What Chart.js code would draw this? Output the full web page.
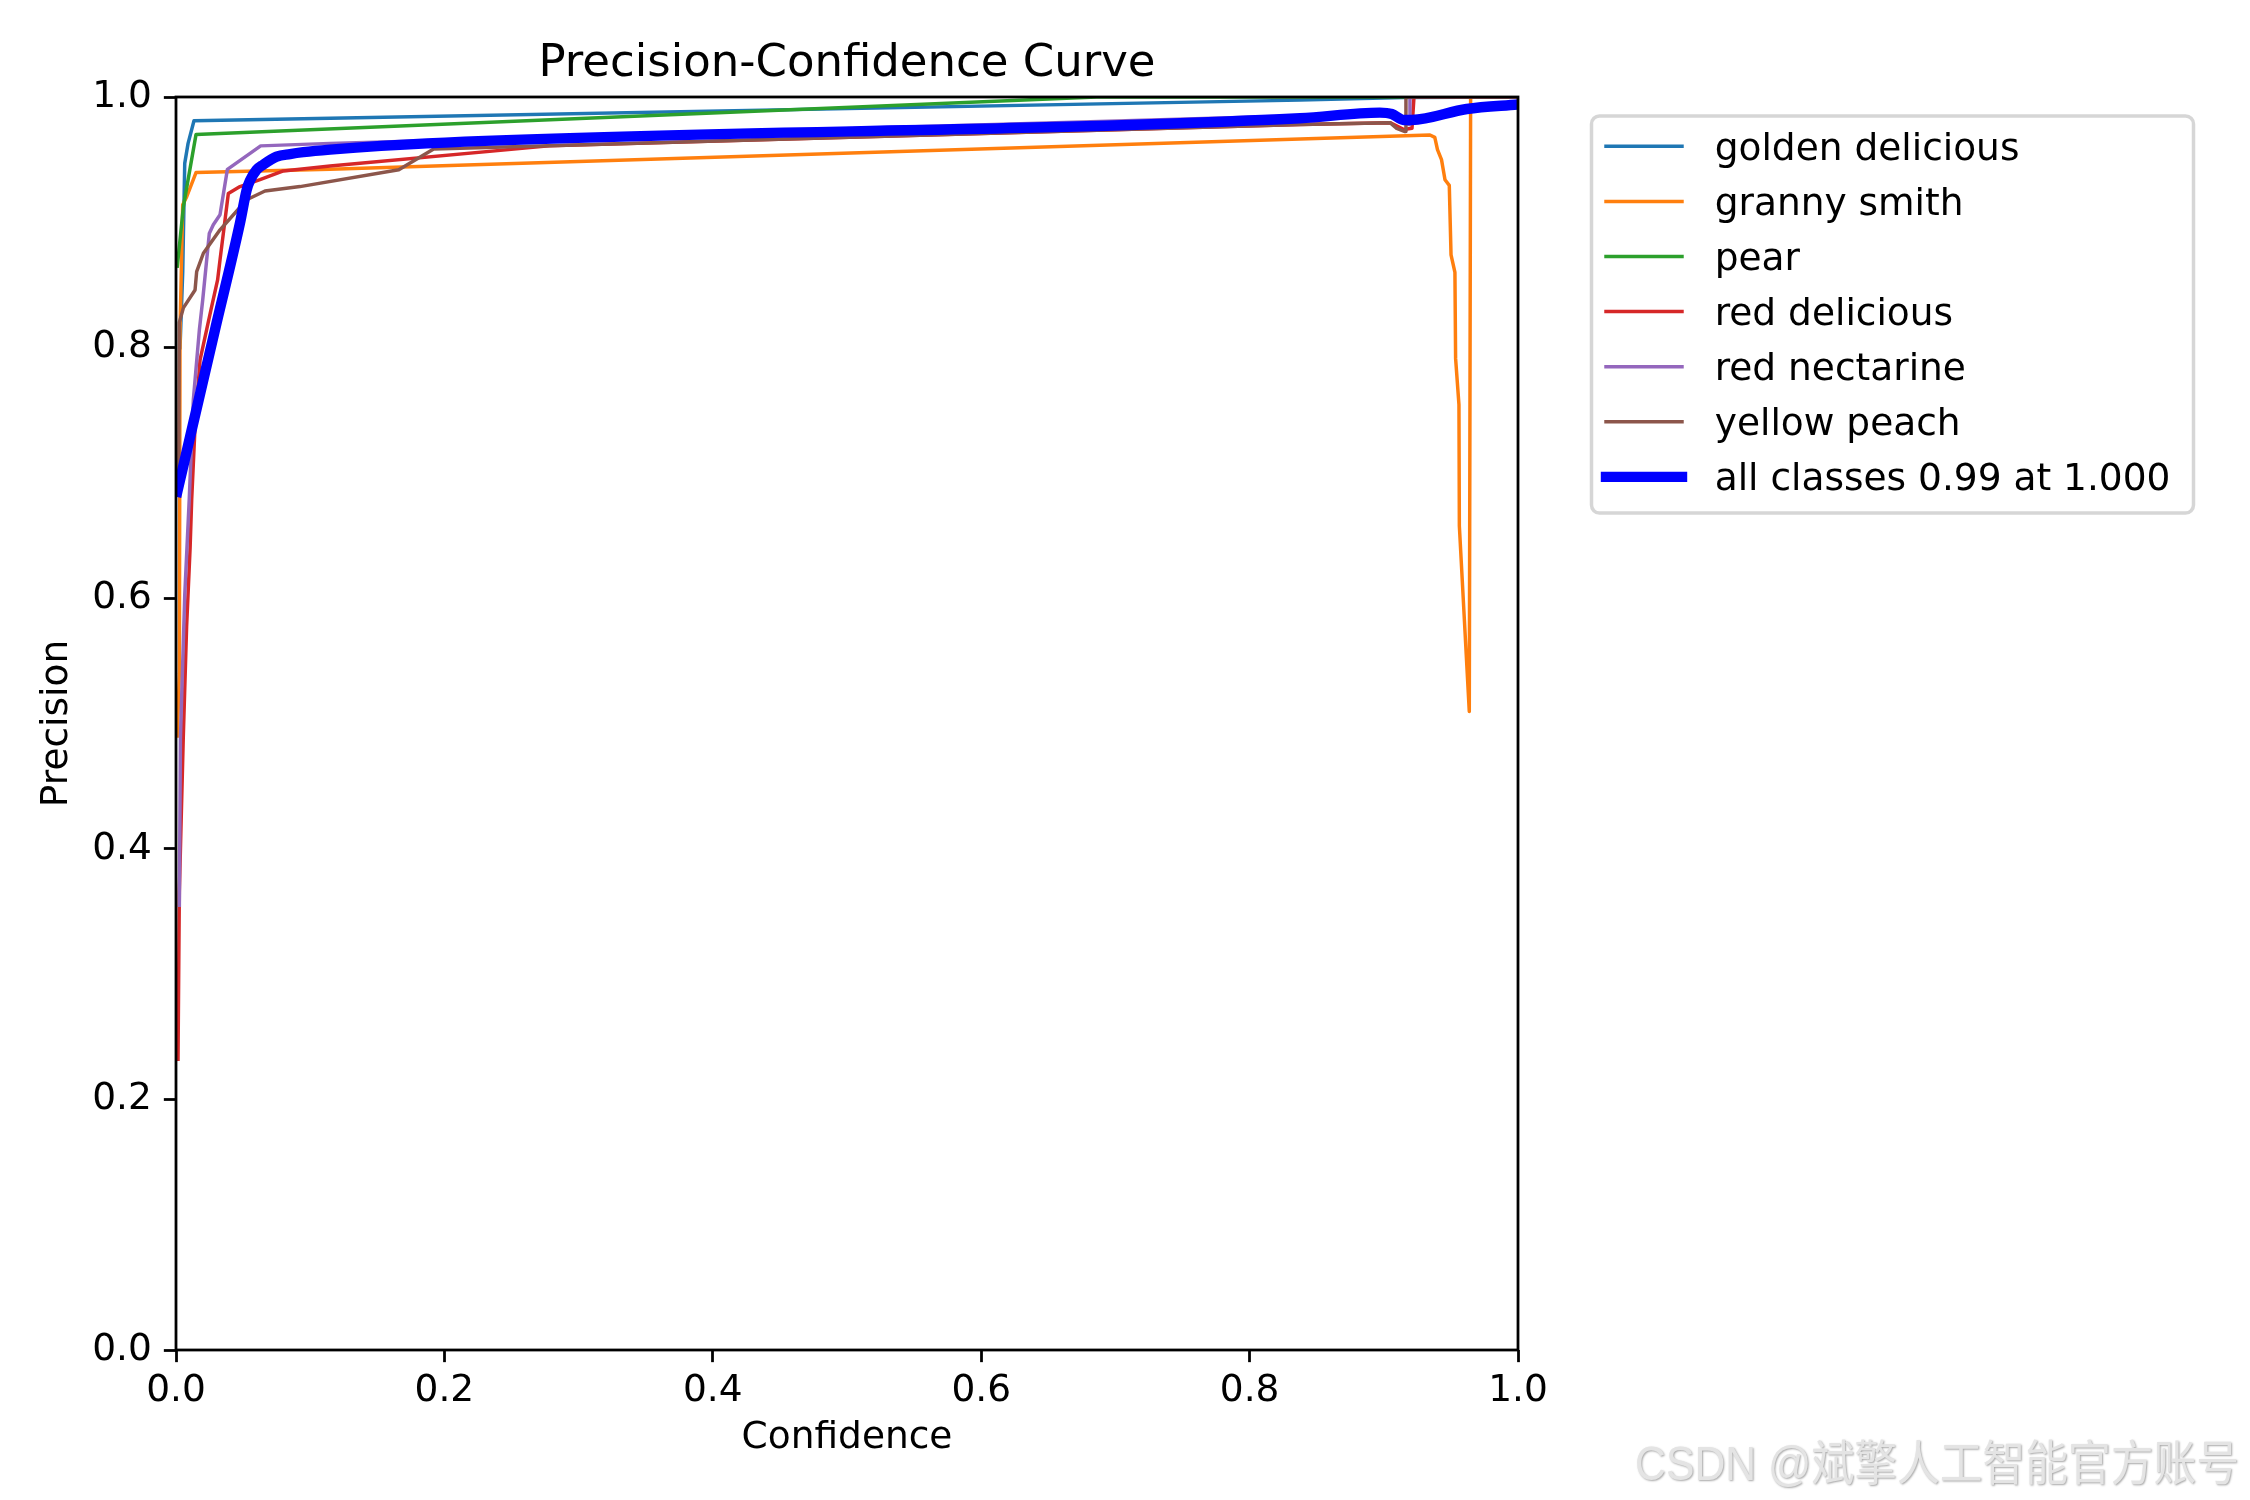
<!DOCTYPE html>
<html>
<head>
<meta charset="utf-8">
<title>Precision-Confidence Curve</title>
<script src="https://cdn.jsdelivr.net/npm/chart.js@4.4.1/dist/chart.umd.min.js"></script>
<style>
  html, body { margin: 0; padding: 0; background: #fff; }
  canvas { display: block; }
</style>
</head>
<body>
<canvas id="pcCurve" width="2250" height="1500"></canvas>
<script>
'use strict';

// ---- data ----
var classNames = ['golden delicious', 'granny smith', 'pear', 'red delicious', 'red nectarine', 'yellow peach'];
var allClassesLabel = 'all classes 0.99 at 1.000';
var xTicks = [0, 0.2, 0.4, 0.6, 0.8, 1.0];
var yTicks = [0, 0.2, 0.4, 0.6, 0.8, 1.0];

var goldenConf = [0.003, 0.005, 0.0065, 0.009, 0.0134, 0.115, 0.8376, 0.915, 1.0];
var goldenPrec = [0.800, 0.860, 0.947, 0.963, 0.981, 0.983, 0.9975, 0.9995, 1.0];

var grannyConf = [0.001, 0.0025, 0.003, 0.005, 0.008, 0.0149, 0.1148, 0.8376, 0.9344, 0.938, 0.940, 0.943, 0.9456, 0.9488, 0.9501, 0.953, 0.9535, 0.956, 0.9563, 0.9637, 0.9647, 1.0];
var grannyPrec = [0.490, 0.540, 0.814, 0.914, 0.9205, 0.9397, 0.9423, 0.9665, 0.9697, 0.9678, 0.958, 0.950, 0.934, 0.9295, 0.874, 0.860, 0.7914, 0.7544, 0.6576, 0.5096, 1.0, 1.0];

var pearConf = [0.001, 0.0055, 0.0149, 0.686, 1.0];
var pearPrec = [0.865, 0.9125, 0.970, 1.0, 1.0];

var redDelConf = [0.0015, 0.0025, 0.0054, 0.0079, 0.0105, 0.0117, 0.0142, 0.0179, 0.026, 0.031, 0.0328, 0.039, 0.0477, 0.0626, 0.080, 0.1148, 0.278, 0.8376, 0.905, 0.915, 0.921, 0.9225, 1.0];
var redDelPrec = [0.232, 0.366, 0.488, 0.577, 0.640, 0.679, 0.737, 0.790, 0.830, 0.854, 0.870, 0.923, 0.9285, 0.934, 0.941, 0.945, 0.961, 0.978, 0.9795, 0.974, 0.975, 1.0, 1.0];

var nectarineConf = [0.0025, 0.0033, 0.0065, 0.0099, 0.0129, 0.0174, 0.0199, 0.0248, 0.0278, 0.0328, 0.0383, 0.0631, 0.1148, 0.8376, 0.905, 0.913, 0.919, 0.9195, 1.0];
var nectarinePrec = [0.355, 0.488, 0.602, 0.680, 0.758, 0.814, 0.838, 0.891, 0.898, 0.906, 0.9423, 0.961, 0.963, 0.985, 0.986, 0.980, 0.978, 1.0, 1.0];

var peachConf = [0.002, 0.0025, 0.0055, 0.0142, 0.0154, 0.0204, 0.0328, 0.0527, 0.0663, 0.0924, 0.166, 0.192, 0.8376, 0.9046, 0.9096, 0.9158, 0.9165, 1.0];
var peachPrec = [0.690, 0.820, 0.8317, 0.846, 0.8607, 0.8753, 0.894, 0.918, 0.925, 0.9285, 0.942, 0.9585, 0.978, 0.9795, 0.975, 0.9724, 1.0, 1.0];

var allConf = [0.001, 0.029, 0.0477, 0.0527, 0.055, 0.060, 0.065, 0.075, 0.085, 0.0949, 0.1148, 0.187, 0.8376, 0.897, 0.906, 0.9146, 0.9208, 0.9618, 1.0];
var allPrec = [0.685, 0.814, 0.8995, 0.926, 0.933, 0.9418, 0.946, 0.9524, 0.9545, 0.956, 0.958, 0.963, 0.983, 0.9875, 0.9864, 0.9817, 0.9817, 0.9904, 0.994];

var classConf = [goldenConf, grannyConf, pearConf, redDelConf, nectarineConf, peachConf];
var classPrec = [goldenPrec, grannyPrec, pearPrec, redDelPrec, nectarinePrec, peachPrec];

// matplotlib tab10
var defaultColors = ['#1f77b4', '#ff7f0e', '#2ca02c', '#d62728', '#9467bd', '#8c564b'];

// ---- helpers ----
var PT = 250 / 72;              // one point in pixels at 250 dpi
var FONT = '"DejaVu Sans", sans-serif';
var smallSize = 37.5;
var titleSize = 45;

function toPoints(xs, ys) {
  var pts = [];
  for (var i = 0; i < xs.length; i++) pts.push({ x: xs[i], y: ys[i] });
  return pts;
}

var datasets = [];
classNames.forEach(function (name, i) {
  datasets.push({
    label: name,
    data: toPoints(classConf[i], classPrec[i]),
    borderColor: defaultColors[i],
    borderWidth: 1 * PT,
    order: classNames.length + 1 - i
  });
});
datasets.push({
  label: allClassesLabel,
  data: toPoints(allConf, allPrec),
  borderColor: '#0000ff',
  borderWidth: 3 * PT,
  cubicInterpolationMode: 'monotone',
  order: 1
});

// title, frame, legend and watermark, drawn matplotlib style
var decorPlugin = {
  id: 'decor',
  afterDatasetsDraw: function (chart) {
    var ctx = chart.ctx, a = chart.chartArea;
    ctx.save();
    ctx.strokeStyle = '#000';
    ctx.lineWidth = 0.8 * PT;
    ctx.strokeRect(a.left, a.top, a.right - a.left, a.bottom - a.top);
    ctx.restore();
  },
  afterDraw: function (chart) {
    var ctx = chart.ctx, a = chart.chartArea;
    ctx.save();

    // title
    ctx.fillStyle = '#000';
    ctx.font = titleSize + 'px ' + FONT;
    ctx.textAlign = 'center';
    ctx.textBaseline = 'alphabetic';
    ctx.fillText('Precision-Confidence Curve', (a.left + a.right) / 2, a.top - 6 * PT);

    // legend box
    var bx = 1591.5, by = 116, bw = 602, bh = 397, r = 8;
    ctx.beginPath();
    ctx.moveTo(bx + r, by);
    ctx.arcTo(bx + bw, by, bx + bw, by + bh, r);
    ctx.arcTo(bx + bw, by + bh, bx, by + bh, r);
    ctx.arcTo(bx, by + bh, bx, by, r);
    ctx.arcTo(bx, by, bx + bw, by, r);
    ctx.closePath();
    ctx.fillStyle = 'rgba(255,255,255,0.8)';
    ctx.fill();
    ctx.strokeStyle = 'rgba(204,204,204,0.8)';
    ctx.lineWidth = 1 * PT;
    ctx.stroke();

    // legend rows
    ctx.font = smallSize + 'px ' + FONT;
    ctx.textAlign = 'left';
    chart.data.datasets.forEach(function (ds, i) {
      var ry = 146.3 + i * 55.1;
      ctx.beginPath();
      ctx.lineCap = 'square';
      ctx.strokeStyle = ds.borderColor;
      ctx.lineWidth = ds.borderWidth;
      ctx.moveTo(1606, ry);
      ctx.lineTo(1682, ry);
      ctx.stroke();
      ctx.fillStyle = '#000';
      ctx.fillText(ds.label, 1714.7, ry + 13.5);
    });

    // watermark
    var wm = 'CSDN @斌擎人工智能官方账号';
    ctx.font = '48px "Liberation Sans", "Noto Sans CJK SC", sans-serif';
    var w = ctx.measureText(wm).width;
    ctx.translate(1635, 1480);
    ctx.scale(604 / w, 1);
    ctx.shadowColor = 'rgba(0,0,0,0.35)';
    ctx.shadowOffsetX = 1;
    ctx.shadowOffsetY = 1;
    ctx.shadowBlur = 2;
    ctx.fillStyle = '#e4e4e4';
    ctx.fillText(wm, 0, 0);
    ctx.restore();
  }
};

function axisOpts(ticks, titleText, isX) {
  return {
    type: 'linear',
    min: 0,
    max: 1,
    afterFit: function (s) {
      if (isX) s.height = 150; else s.width = 176;
    },
    afterBuildTicks: function (s) {
      s.ticks = ticks.map(function (v) { return { value: v }; });
    },
    border: { display: false },
    grid: {
      display: true,
      drawOnChartArea: false,
      drawTicks: true,
      tickLength: 3.5 * PT,
      tickWidth: 0.8 * PT,
      tickColor: '#000'
    },
    ticks: {
      color: '#000',
      padding: isX ? 7 : 12,
      maxRotation: 0,
      autoSkip: false,
      font: { family: FONT, size: smallSize },
      callback: function (v) { return v.toFixed(1); }
    },
    title: {
      display: true,
      text: titleText,
      color: '#000',
      font: { family: FONT, size: smallSize },
      padding: isX ? { top: 0, bottom: 39 } : { top: 35, bottom: 0 }
    }
  };
}

new Chart(document.getElementById('pcCurve').getContext('2d'), {
  type: 'line',
  data: { datasets: datasets },
  options: {
    responsive: false,
    devicePixelRatio: 1,
    animation: false,
    layout: { padding: { top: 97, right: 732, bottom: 0, left: 0 } },
    elements: {
      point: { radius: 0 },
      line: { tension: 0, borderJoinStyle: 'round', borderCapStyle: 'square' }
    },
    plugins: {
      legend: { display: false },
      title: { display: false },
      tooltip: { enabled: false }
    },
    scales: {
      x: axisOpts(xTicks, 'Confidence', true),
      y: axisOpts(yTicks, 'Precision', false)
    }
  },
  plugins: [decorPlugin]
});
</script>
</body>
</html>
